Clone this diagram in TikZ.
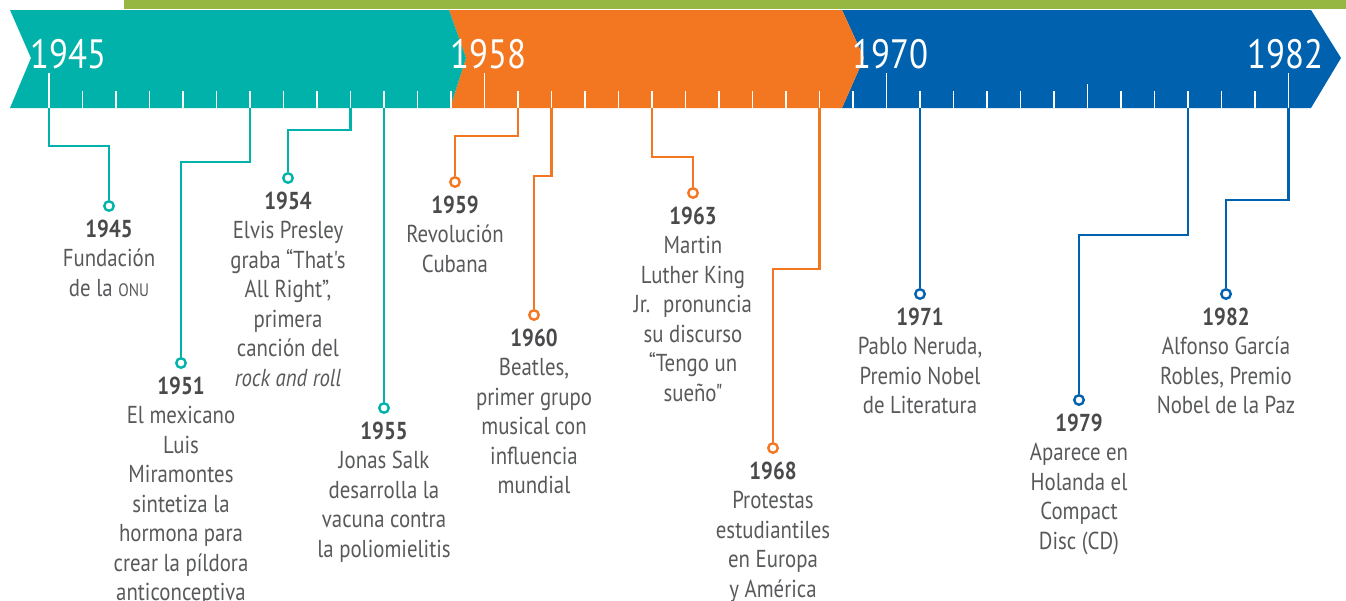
\documentclass[tikz,border=0pt]{standalone}
\usepackage{fontspec}
\newfontfamily\tlf[FakeStretch=0.85,Ligatures=TeXOff]{PT Sans}
\definecolor{cteal}{HTML}{00B2A9}
\definecolor{corange}{HTML}{F37721}
\definecolor{cblue}{HTML}{0061AE}
\definecolor{cgreen}{HTML}{96B741}
\definecolor{ctext}{HTML}{58595B}
\definecolor{cyear}{HTML}{4A4A4C}
\tikzset{
  evdot/.style={circle,draw=#1,fill=white,line width=2.4pt,inner sep=0pt,minimum size=9.5pt},
  conn/.style={draw=#1,line width=2.4pt},
  evtext/.style={align=center,inner sep=0pt,anchor=north,text=ctext,font=\tlf\fontsize{24.5}{29.5}\selectfont},
  yearlbl/.style={anchor=base west,inner sep=0pt,text=white,font=\tlf\fontsize{41}{41}\selectfont},
  tickmark/.style={draw=white,line width=1.9pt}
}
\newcommand\evt[7]{%
  \coordinate (t#1) at (#3,108);
  \coordinate (b#1) at (#3,#4);
  \node[evdot=#2] (d#1) at (#5,#6) {};
  \draw[conn=#2] (t#1) -- (b#1) -| (d#1);
  \node[evtext] (l#1) at (#5,#6+13.5) {\textcolor{cyear}{\textbf{#1}}\\#7};
}
\begin{document}
\begin{tikzpicture}[x=1pt,y=-1pt]
\useasboundingbox (0,0) rectangle (1346,600);
\clip (0,0) rectangle (1346,600);
% top green bar
\fill[cgreen] (124,0) rectangle (1346,9);
% banner segments
\fill[cblue] (842,10) -- (1311,10) -- (1341,58) -- (1311,108) -- (842,108) -- (864,58) -- cycle;
\fill[corange] (449,10) -- (842,10) -- (864,58) -- (842,108) -- (450,108) -- (466,58) -- cycle;
\fill[cteal] (10,10) -- (449,10) -- (466,58) -- (450,108) -- (10,108) -- (31,58) -- cycle;
% ticks
\foreach \yr in {1946,...,1981}{
  \draw[tickmark] ({49+33.5*(\yr-1945)},91) -- ({49+33.5*(\yr-1945)},108);
}
\foreach \yr in {1945,1958,1970,1982}{
  \draw[tickmark] ({49+33.5*(\yr-1945)},73) -- ({49+33.5*(\yr-1945)},108);
}
\draw[tickmark] ({49+33.5*31},84) -- ({49+33.5*31},108);
% banner years
\node[yearlbl] (y1945) at (30,68) {1945};
\node[yearlbl] (y1958) at (450,68) {1958};
\node[yearlbl] (y1970) at (852,68) {1970};
\node[yearlbl] (y1982) at (1247,68) {1982};
% events
\evt{1945}{cteal}{49}{146}{109}{206}{Fundación\\de la {\fontsize{18}{20}\selectfont ONU}}
\evt{1951}{cteal}{250}{162}{181}{363}{El mexicano\\Luis\\Miramontes\\sintetiza la\\hormona para\\crear la píldora\\anticonceptiva}
\evt{1954}{cteal}{350.5}{130}{288}{178}{Elvis Presley\\graba “That's\\All Right”,\\primera\\canción del\\\textit{rock and roll}}
\evt{1955}{cteal}{384}{200}{384}{408}{Jonas Salk\\desarrolla la\\vacuna contra\\la poliomielitis}
\evt{1959}{corange}{518}{136}{455}{182}{Revolución\\Cubana}
\evt{1960}{corange}{551.5}{176}{534}{315}{Beatles,\\primer grupo\\musical con\\influencia\\mundial}
\evt{1963}{corange}{652}{157}{693}{193}{Martin\\Luther King\\Jr.~ pronuncia\\su discurso\\“Tengo un\\sueño"}
\evt{1968}{corange}{819.5}{269}{773}{448}{Protestas\\estudiantiles\\en Europa\\y América}
\evt{1971}{cblue}{920}{200}{920}{294}{Pablo Neruda,\\Premio Nobel\\de Literatura}
\evt{1979}{cblue}{1188}{235}{1079}{400}{Aparece en\\Holanda el\\Compact\\Disc (CD)}
\evt{1982}{cblue}{1288.5}{200}{1226}{294}{Alfonso García\\Robles, Premio\\Nobel de la Paz}
\end{tikzpicture}
\end{document}
